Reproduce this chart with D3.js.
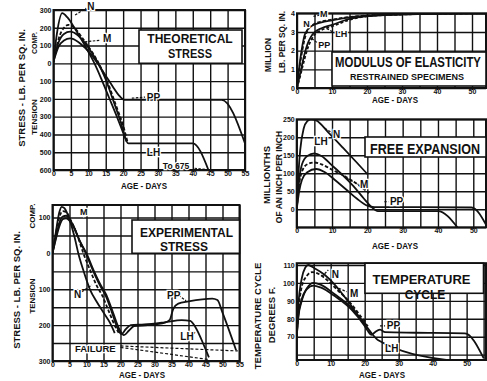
<!DOCTYPE html>
<html>
<head>
<meta charset="utf-8">
<script src="https://cdn.jsdelivr.net/npm/d3@7"></script>
<style>
  body { margin: 0; background: #fff; }
  text { font-family: "Liberation Sans", Arial, sans-serif; font-weight: bold; fill: #111; }
</style>
</head>
<body>
<script>
// ---- tick labels
var ticks5to55 = [0, 5, 10, 15, 20, 25, 30, 35, 40, 45, 50, 55];
var ticks10to50 = [0, 10, 20, 30, 40, 50];
var thYTicks = [-600, -500, -400, -300, -200, -100, 0, 100, 200, 300];
var moYTicks = [0, 1, 2, 3, 4];
var feYTicks = [0, 50, 100, 150, 200, 250];
var exYTicks = [-300, -200, -100, 0, 100];
var tcYTicks = [70, 80, 90, 100, 110];
var seriesNames = ["N", "M", "LH", "PP"];

// ---- theoretical stress, lb per sq in (+ compression, - tension) [day, value]
var thN  = [[0,10],[1,170],[2.5,282],[4,258],[6,200],[8,135],[10,65],[12,-10],[14,-100],[16,-195],[18,-290],[20,-390],[21,-440]];
var thM  = [[0,10],[1.5,140],[3,200],[4.3,216],[6,200],[8,150],[10,95],[12,35],[14,-40],[16,-130],[18,-240],[20,-350],[21.3,-445]];
var thLH = [[0,10],[1.5,120],[3,165],[4.8,178],[7,158],[9,115],[11,60],[13,-5],[15,-90],[17,-200],[19,-310],[21.5,-450],[40,-450],[44.5,-600]];
var thPP = [[0,10],[1.5,95],[3,128],[4.8,140],[7,122],[9,88],[11,45],[13,-10],[15,-70],[17,-130],[19,-185],[20.3,-205],[48.3,-205],[55,-450]];

// ---- modulus of elasticity, million lb per sq in
var moN  = [[0,0],[0.7,1.2],[1.3,2],[2.3,2.9],[4,3.3],[7,3.52],[10,3.62],[15,3.78],[20,3.87],[30,3.94],[40,3.98],[54,4.0]];
var moM  = [[0,0],[0.8,1.2],[1.6,2.1],[2.8,3.0],[4.5,3.38],[7,3.56],[10,3.66],[15,3.8],[20,3.88],[30,3.95],[40,3.98],[54,4.0]];
var moLH = [[0,0],[1,0.85],[2,1.7],[3,2.35],[4,2.75],[5,2.98],[7,3.2],[10,3.38],[15,3.7],[20,3.85],[30,3.94],[54,4.0]];
var moPP = [[0,0],[1,0.7],[2,1.45],[3,2.1],[4,2.55],[5,2.85],[7,3.1],[10,3.3],[15,3.65],[20,3.84],[30,3.94],[54,4.0]];

// ---- free expansion, millionths of an inch per inch
var feN  = [[0,0],[0.5,100],[1,165],[2,225],[3,245],[4,250],[5.5,247],[9,213],[13,172],[17,130],[20,98]];
var feM  = [[0,0],[0.7,70],[1.5,105],[3,125],[5,130],[7,125],[10,110],[13,95],[15.6,80],[18,64],[20.5,45]];
var feLH = [[0,0],[0.7,80],[1.5,125],[3,148],[5,155],[7,148],[10,122],[13,95],[16,65],[19,30],[21,8],[23,-5],[40,-5],[45.5,-50]];
var fePP = [[0,0],[0.7,50],[1.5,82],[3,103],[5.5,112],[8,103],[11,80],[14,55],[17,30],[20,10],[22,6],[35,6],[49.5,5],[54,-50]];

// ---- experimental stress, lb per sq in
var exN  = [[0,0],[1,60],[2,115],[2.7,130],[3.5,126],[5,95],[6.5,45],[7.6,0],[9,-45],[11,-100],[13,-135],[15,-165],[17,-195],[18.3,-222]];
var exM  = [[0,0],[1,55],[2,100],[3,118],[4,115],[5.5,90],[7.5,45],[9.1,0],[11,-45],[13,-90],[14.5,-115],[16.5,-160],[18.5,-205],[19.5,-222]];
var exLH = [[0,0],[1,45],[2,85],[3,103],[4,105],[6,80],[8,35],[9.8,0],[12,-50],[14,-90],[15.5,-115],[17.5,-165],[19.2,-210],[20.3,-225],[21.5,-212],[23,-200],[27,-198],[33,-192],[38,-186],[40.5,-188],[42,-205],[44.7,-260],[46,-290]];
var exPP = [[0,0],[1,40],[2,75],[3,95],[4,98],[6,78],[8,35],[10,0],[12,-45],[14,-85],[15.8,-115],[17.8,-165],[19.6,-210],[21,-228],[22.5,-215],[24,-203],[28,-200],[33,-193],[34.5,-185],[35.5,-155],[37,-140],[40,-134],[47,-126],[48.5,-130],[50,-165],[54,-270]];
var exFailA = [[20,-258],[54.5,-272]];
var exFailB = [[20,-262],[46,-296]];

// ---- temperature cycle, degrees F
var tcN  = [[0,71],[0.5,88],[1.5,102.6],[2.5,108.5],[3.4,110],[5,108.5],[8.3,104.4],[11.3,98.8],[15.2,89.5],[20,77.4],[21,76]];
var tcM  = [[0,71],[0.6,86],[1.5,98],[3,104],[4.5,106],[6.5,105],[9,101.5],[12,96],[15.5,89.5],[19,81],[20.5,77.5]];
var tcLH = [[0,70],[0.5,82],[1.5,91],[3,97],[4.9,100],[7,99],[11.3,93.5],[16.2,86],[20,77],[22,72],[24,68],[44,57]];
var tcPP = [[0,70],[0.5,81],[1.5,90],[3,96.5],[4.9,98.5],[7,97.5],[11.3,92.5],[16.2,85],[20,76],[21,73],[22,71],[23,72.5],[24.5,74],[26,72.5],[35,72.2],[49.5,71.8],[55,58]];

var dash = { N: null, M: "3.5,2", LH: null, PP: null };

var svg = d3.select("body").append("svg")
  .attr("width", 487)
  .attr("height", 381);

// squeeze a text horizontally so it fills a given width (condensed look of the scan)
function fitText(sel, cx, cy, len, rotate) {
  var natural = sel.node().getComputedTextLength();
  var s = Math.min(1, len / natural);
  sel.attr("transform", "translate(" + cx + "," + cy + ")" + (rotate ? " rotate(-90)" : "") + " scale(" + s + ",1)");
}

function drawPanel(p) {
  var x = d3.scaleLinear().domain(p.xDomain).range([p.left, p.right]);
  var y = d3.scaleLinear().domain(p.yDomain).range([p.bottom, p.top]);
  var w = p.right - p.left, h = p.bottom - p.top;
  var g = svg.append("g");

  svg.append("clipPath").attr("id", "clip-" + p.id)
    .append("rect")
    .attr("x", p.left).attr("y", p.top)
    .attr("width", w).attr("height", h);

  // grid lines
  var gx = g.append("g")
    .attr("transform", "translate(0," + p.bottom + ")")
    .call(d3.axisBottom(x).tickValues(p.xGrid).tickSize(-h).tickSizeOuter(0).tickFormat(""));
  var gy = g.append("g")
    .attr("transform", "translate(" + p.left + ",0)")
    .call(d3.axisLeft(y).tickValues(p.yGrid).tickSize(-w).tickSizeOuter(0).tickFormat(""));
  [gx, gy].forEach(a => {
    a.select(".domain").remove();
    a.selectAll("line").attr("stroke", "#111").attr("stroke-width", 1.4);
  });

  // tick labels
  var xa = g.append("g")
    .attr("transform", "translate(0," + p.bottom + ")")
    .call(d3.axisBottom(x).tickValues(p.xTicks).tickSize(2).tickPadding(-1).tickSizeOuter(0));
  var ya = g.append("g")
    .attr("transform", "translate(" + p.left + ",0)")
    .call(d3.axisLeft(y).tickValues(p.yTicks).tickSize(0).tickPadding(2)
      .tickFormat(d => Math.abs(d)));
  [xa, ya].forEach(a => {
    a.select(".domain").remove();
    a.selectAll("line").attr("stroke", "#111").attr("stroke-width", 1.4);
    a.selectAll("text").attr("font-size", 7).attr("fill", "#111");
  });

  // frame
  g.append("rect")
    .attr("x", p.left).attr("y", p.top)
    .attr("width", w).attr("height", h)
    .attr("fill", "none").attr("stroke", "#111").attr("stroke-width", 2);

  // title box
  var b = p.box;
  g.append("rect")
    .attr("x", b.x0).attr("y", b.y0)
    .attr("width", b.x1 - b.x0).attr("height", b.y1 - b.y0)
    .attr("fill", "#fff").attr("stroke", "#111").attr("stroke-width", 1.6);
  b.lines.forEach(t => {
    var tx = g.append("text")
      .attr("text-anchor", "middle")
      .attr("font-size", t.size)
      .text(t.text);
    fitText(tx, t.cx, t.y, t.len, false);
  });

  // curves
  var line = d3.line()
    .x(d => x(d[0]))
    .y(d => y(d[1]))
    .curve(d3.curveMonotoneX);
  p.series.forEach(s => {
    g.append("path")
      .attr("d", line(s.data))
      .attr("clip-path", "url(#clip-" + p.id + ")")
      .attr("fill", "none")
      .attr("stroke", "#111")
      .attr("stroke-width", s.width || 1.8)
      .attr("stroke-dasharray", s.dash);
  });

  // leader lines
  (p.leaders || []).forEach(l => {
    g.append("line")
      .attr("x1", x(l[0])).attr("y1", y(l[1]))
      .attr("x2", x(l[2])).attr("y2", y(l[3]))
      .attr("stroke", "#111").attr("stroke-width", 1.2)
      .attr("stroke-dasharray", "2.5,1.5");
  });

  // series labels
  (p.labels || []).forEach(l => {
    g.append("text")
      .attr("x", x(l.d)).attr("y", y(l.v))
      .attr("font-size", l.size || 10)
      .attr("stroke", "#fff").attr("stroke-width", 2.5)
      .attr("paint-order", "stroke")
      .text(l.text);
  });

  // axis titles
  var xt = g.append("text")
    .attr("text-anchor", "middle")
    .attr("font-size", 8.5)
    .text("AGE - DAYS");
  fitText(xt, p.xTitle[0], p.xTitle[1], 46, false);
  p.yTitles.forEach(t => {
    var yt = g.append("text")
      .attr("text-anchor", "middle")
      .attr("font-size", t.size)
      .text(t.text);
    fitText(yt, t.x, t.y, t.len, true);
  });
}

function ser(names, arrays, extra) {
  var out = names.map((n, i) => ({ key: n, data: arrays[i], dash: dash[n] }));
  return out.concat(extra || []);
}

// ---- Theoretical stress
drawPanel({
  id: "th", left: 53.5, right: 245, top: 10, bottom: 170,
  xDomain: [0, 55], yDomain: [-600, 300],
  xGrid: ticks5to55, yGrid: thYTicks,
  xTicks: ticks5to55, yTicks: thYTicks,
  series: ser(seriesNames, [thN, thM, thLH, thPP]),
  box: { x0: 139, y0: 30, x1: 242, y1: 63.3, lines: [
    { text: "THEORETICAL", cx: 190, y: 43.3, size: 12, len: 86 },
    { text: "STRESS", cx: 190, y: 57.5, size: 12, len: 44 }] },
  labels: [
    { text: "N", d: 9.7, v: 300 },
    { text: "M", d: 14.2, v: 120 },
    { text: "PP", d: 26.8, v: -212 },
    { text: "LH", d: 26.8, v: -520 },
    { text: "To 675", d: 31.4, v: -595, size: 8.5 }],
  leaders: [[6.2, 272, 9.4, 310], [9, 121, 13.5, 130], [22.5, -196, 26.3, -190], [40.5, -590, 44, -598]],
  xTitle: [144, 189],
  yTitles: [
    { text: "STRESS - LB. PER SQ. IN.", x: 25, y: 88, size: 9.5, len: 134 },
    { text: "COMP.", x: 37, y: 43, size: 8, len: 22 },
    { text: "TENSION", x: 37, y: 117, size: 8, len: 38 }]
});

// ---- Modulus of elasticity
drawPanel({
  id: "mo", left: 297, right: 486, top: 13.3, bottom: 88,
  xDomain: [0, 54], yDomain: [0, 4],
  xGrid: [0, 5, 10, 15, 20, 25, 30, 35, 40, 45, 50], yGrid: moYTicks,
  xTicks: ticks10to50, yTicks: moYTicks,
  series: ser(seriesNames, [moN, moM, moLH, moPP]).map(s => s.key === "PP" ? Object.assign(s, { dash: "3,2" }) : s),
  box: { x0: 332, y0: 52, x1: 486, y1: 86, lines: [
    { text: "MODULUS OF ELASTICITY", cx: 408, y: 67, size: 15, len: 146 },
    { text: "RESTRAINED SPECIMENS", cx: 407, y: 79.5, size: 9, len: 128 }] },
  labels: [
    { text: "N", d: 1.8, v: 3.25, size: 9 },
    { text: "M", d: 6.6, v: 3.8, size: 9 },
    { text: "LH", d: 10.9, v: 2.75, size: 9 },
    { text: "PP", d: 6.1, v: 2.13, size: 9 }],
  leaders: [[4.7, 3.84, 6.4, 3.9], [8.5, 3.18, 10.8, 2.95], [4.2, 2.65, 6, 2.4]],
  xTitle: [395, 103],
  yTitles: [
    { text: "MILLION", x: 271, y: 55, size: 9, len: 34 },
    { text: "LB. PER SQ. IN.", x: 285, y: 42, size: 9, len: 62 }]
});

// ---- Free expansion
drawPanel({
  id: "fe", left: 296.7, right: 486, top: 119.3, bottom: 227.3,
  xDomain: [0, 53.6], yDomain: [-50, 250],
  xGrid: [0, 5, 10, 15, 20, 25, 30, 35, 40, 45, 50], yGrid: [-50, 0, 50, 100, 150, 200, 250],
  xTicks: ticks10to50, yTicks: feYTicks,
  series: ser(seriesNames, [feN, feM, feLH, fePP]),
  box: { x0: 365, y0: 137, x1: 486, y1: 157, lines: [
    { text: "FREE EXPANSION", cx: 425, y: 153.5, size: 15.5, len: 110 }] },
  labels: [
    { text: "N", d: 10.3, v: 198 },
    { text: "LH", d: 5, v: 178 },
    { text: "M", d: 17.9, v: 59 },
    { text: "PP", d: 26.4, v: 12 }],
  leaders: [[8, 225, 10.2, 211], [14.2, 86, 17.5, 69], [24.8, 21, 26, 21]],
  xTitle: [395, 249],
  yTitles: [
    { text: "MILLIONTHS", x: 270, y: 175, size: 9.5, len: 58 },
    { text: "OF AN INCH PER INCH", x: 282, y: 177, size: 8.5, len: 98 }]
});

// ---- Experimental stress
drawPanel({
  id: "ex", left: 52.5, right: 239.5, top: 205, bottom: 361,
  xDomain: [0, 55], yDomain: [-300, 135],
  xGrid: ticks5to55, yGrid: [-300, -250, -200, -150, -100, -50, 0, 50, 100],
  xTicks: ticks5to55, yTicks: exYTicks,
  series: ser(seriesNames, [exN, exM, exLH, exPP], [
    { data: exFailA, dash: "3,2", width: 1.2 },
    { data: exFailB, dash: "3,2", width: 1.2 }]),
  box: { x0: 132, y0: 220, x1: 239.5, y1: 253.3, lines: [
    { text: "EXPERIMENTAL", cx: 186.5, y: 236.8, size: 12, len: 97 },
    { text: "STRESS", cx: 184, y: 251.3, size: 12, len: 48 }] },
  labels: [
    { text: "M", d: 8.1, v: 107, size: 9 },
    { text: "N", d: 6.3, v: -125 },
    { text: "PP", d: 33.7, v: -128 },
    { text: "LH", d: 37.6, v: -242 },
    { text: "FAILURE", d: 6.6, v: -276, size: 9.5 }],
  leaders: [[8.6, -107, 11.6, -88], [37.1, -117, 39.3, -132], [40.6, -233, 42, -219]],
  xTitle: [142, 378],
  yTitles: [
    { text: "STRESS - LB. PER SQ. IN.", x: 20, y: 290, size: 9.5, len: 124 },
    { text: "COMP.", x: 35, y: 216, size: 8, len: 26 },
    { text: "TENSION", x: 35, y: 296, size: 8, len: 35 }]
});

// ---- Temperature cycle
drawPanel({
  id: "tc", left: 296.7, right: 486, top: 263.2, bottom: 360,
  xDomain: [0, 55.7], yDomain: [57, 111],
  xGrid: ticks5to55, yGrid: [60, 70, 80, 90, 100, 110],
  xTicks: ticks10to50, yTicks: tcYTicks,
  series: ser(seriesNames, [tcN, tcM, tcLH, tcPP]),
  box: { x0: 365, y0: 263.2, x1: 483.5, y1: 293.3, lines: [
    { text: "TEMPERATURE", cx: 421.5, y: 284.3, size: 13, len: 103 },
    { text: "CYCLE", cx: 425, y: 298.7, size: 12, len: 44 }] },
  labels: [
    { text: "N", d: 10.3, v: 102.7 },
    { text: "M", d: 15.7, v: 92.4 },
    { text: "PP", d: 26.5, v: 74.3 },
    { text: "LH", d: 26, v: 61.7 }],
  leaders: [[7.4, 103.5, 9.3, 107.2], [11.3, 97.9, 14.7, 95.1], [24.5, 76, 26, 76]],
  xTitle: [382, 378],
  yTitles: [
    { text: "TEMPERATURE CYCLE", x: 261, y: 316, size: 9.5, len: 110 },
    { text: "DEGREES F.", x: 275, y: 315, size: 9.5, len: 62 }]
});
</script>
</body>
</html>
